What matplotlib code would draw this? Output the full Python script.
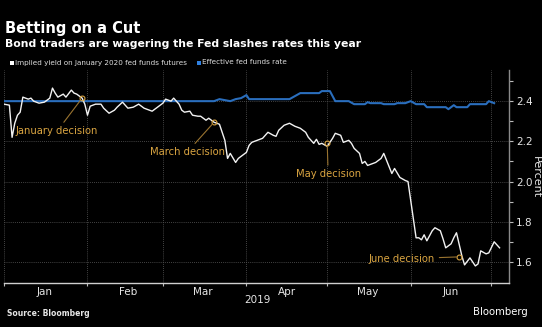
import matplotlib
matplotlib.use("Agg")
import matplotlib.pyplot as plt
from matplotlib.patches import Rectangle
import pandas as pd

# Implied yield on January 2020 fed funds futures
futures_dates = [
    "2019-01-01", "2019-01-03", "2019-01-04", "2019-01-05", "2019-01-06", "2019-01-07",
    "2019-01-08", "2019-01-10", "2019-01-11", "2019-01-12", "2019-01-14", "2019-01-16",
    "2019-01-18", "2019-01-19", "2019-01-20", "2019-01-21", "2019-01-23", "2019-01-24",
    "2019-01-26", "2019-01-27", "2019-01-28", "2019-01-30", "2019-01-31",
    "2019-02-01", "2019-02-02", "2019-02-04", "2019-02-06", "2019-02-07", "2019-02-09",
    "2019-02-11", "2019-02-12", "2019-02-14", "2019-02-16", "2019-02-18", "2019-02-20",
    "2019-02-22", "2019-02-23", "2019-02-25", "2019-02-27",
    "2019-03-01", "2019-03-02", "2019-03-04", "2019-03-05", "2019-03-07", "2019-03-08",
    "2019-03-09", "2019-03-11", "2019-03-12", "2019-03-14", "2019-03-15", "2019-03-17",
    "2019-03-18", "2019-03-20", "2019-03-21", "2019-03-22", "2019-03-24", "2019-03-25",
    "2019-03-26", "2019-03-28", "2019-03-29",
    "2019-04-01", "2019-04-02", "2019-04-03", "2019-04-05", "2019-04-07", "2019-04-09",
    "2019-04-11", "2019-04-12", "2019-04-13", "2019-04-15", "2019-04-17", "2019-04-19",
    "2019-04-21", "2019-04-23", "2019-04-24", "2019-04-26", "2019-04-27", "2019-04-28",
    "2019-04-29",
    "2019-05-01", "2019-05-03", "2019-05-04", "2019-05-06", "2019-05-07", "2019-05-09",
    "2019-05-10", "2019-05-11", "2019-05-13", "2019-05-14", "2019-05-15", "2019-05-16",
    "2019-05-18", "2019-05-19", "2019-05-21", "2019-05-22", "2019-05-25", "2019-05-26",
    "2019-05-28", "2019-05-30", "2019-05-31",
    "2019-06-03", "2019-06-04", "2019-06-05", "2019-06-06", "2019-06-07", "2019-06-09",
    "2019-06-10", "2019-06-12", "2019-06-13", "2019-06-14", "2019-06-16", "2019-06-17",
    "2019-06-18", "2019-06-20", "2019-06-21", "2019-06-23", "2019-06-25", "2019-06-26",
    "2019-06-27", "2019-06-29", "2019-06-30", "2019-07-02", "2019-07-04",
]
futures_yield = [
    2.385, 2.38, 2.22, 2.29, 2.33, 2.345,
    2.42, 2.41, 2.415, 2.40, 2.39, 2.395,
    2.415, 2.465, 2.44, 2.42, 2.435, 2.42,
    2.455, 2.44, 2.435, 2.415, 2.385,
    2.33, 2.375, 2.385, 2.385, 2.365, 2.34,
    2.355, 2.37, 2.395, 2.365, 2.37, 2.385,
    2.365, 2.36, 2.35, 2.37,
    2.39, 2.41, 2.40, 2.415, 2.385, 2.355,
    2.345, 2.35, 2.33, 2.325, 2.325, 2.305,
    2.315, 2.295, 2.29, 2.285, 2.205, 2.115,
    2.14, 2.095, 2.115,
    2.145, 2.18, 2.195, 2.205, 2.215, 2.245,
    2.23, 2.225, 2.255, 2.28, 2.29, 2.275,
    2.265, 2.245, 2.22, 2.19, 2.21, 2.185,
    2.19,
    2.175, 2.215, 2.24, 2.23, 2.195, 2.205,
    2.19, 2.165, 2.14, 2.09, 2.10, 2.08,
    2.09, 2.095, 2.115, 2.14, 2.04, 2.065,
    2.02, 2.005, 2.00,
    1.72, 1.72, 1.71, 1.735, 1.705, 1.755,
    1.77, 1.755, 1.715, 1.67, 1.69, 1.72,
    1.745, 1.63, 1.585, 1.62, 1.58, 1.59,
    1.655, 1.64, 1.645, 1.70, 1.67,
]

# Effective fed funds rate
effr_dates = [
    "2019-01-01", "2019-03-20", "2019-03-22", "2019-03-24", "2019-03-26", "2019-03-28",
    "2019-03-30", "2019-04-01", "2019-04-02", "2019-04-17", "2019-04-21", "2019-04-28",
    "2019-04-29", "2019-05-02", "2019-05-04", "2019-05-09", "2019-05-11", "2019-05-15",
    "2019-05-16", "2019-05-17", "2019-05-21", "2019-05-22", "2019-05-26", "2019-05-27",
    "2019-05-30", "2019-06-01", "2019-06-03", "2019-06-06", "2019-06-07", "2019-06-14",
    "2019-06-15", "2019-06-17", "2019-06-18", "2019-06-22", "2019-06-23", "2019-06-29",
    "2019-06-30", "2019-07-02",
]
effr_rate = [
    2.40, 2.40, 2.41, 2.405, 2.40, 2.41,
    2.415, 2.43, 2.41, 2.41, 2.44, 2.44,
    2.45, 2.45, 2.40, 2.40, 2.385, 2.385,
    2.395, 2.39, 2.39, 2.385, 2.385, 2.39,
    2.39, 2.40, 2.385, 2.385, 2.37, 2.37,
    2.36, 2.38, 2.37, 2.37, 2.385, 2.385,
    2.40, 2.39,
]

# FOMC decision markers: (label, date, implied yield)
decision_labels = ["January decision", "March decision", "May decision", "June decision"]
decision_dates = ["2019-01-30", "2019-03-20", "2019-05-01", "2019-06-19"]
decision_values = [2.415, 2.295, 2.19, 1.625]

month_labels = ["Jan", "Feb", "Mar", "Apr", "May", "Jun"]
y_ticks = [1.6, 1.8, 2.0, 2.2, 2.4]

BG = "black"
WHITE = "#f2f2f2"
BLUE = "#2a6ebd"
GOLD = "#d9a441"
GOLD_LINE = "#9a7430"
GRID = "#5a5a5a"
NARROW = ["Liberation Sans Narrow", "DejaVu Sans"]

fig = plt.figure(figsize=(5.42, 3.27), dpi=100, facecolor=BG)
W, H = 542, 327
ax = fig.add_axes([4 / W, 1 - 283 / H, 505 / W, 213 / H], facecolor=BG)

fd = pd.to_datetime(futures_dates)
ed = pd.to_datetime(effr_dates)
ax.plot(ed, effr_rate, color=BLUE, lw=1.5, zorder=3, solid_joinstyle="round")
ax.plot(fd, futures_yield, color=WHITE, lw=1.0, zorder=4, solid_joinstyle="round")

ax.set_xlim(pd.Timestamp("2019-01-01"), pd.Timestamp("2019-07-07 12:00"))
ax.set_ylim(1.495, 2.555)

# month boundaries as gridlines, month names centred between them
month_starts = pd.date_range("2019-01-01", "2019-07-01", freq="MS")
ax.set_xticks(month_starts)
ax.set_xticklabels([""] * len(month_starts))
mid_months = pd.to_datetime([f"2019-{m:02d}-16" for m in range(1, 7)])
ax.set_xticks(mid_months, minor=True)
ax.set_xticklabels(month_labels, minor=True, fontsize=7.5, color="#e6e6e6", family=NARROW)
ax.tick_params(axis="x", which="minor", length=0, pad=3)
ax.tick_params(axis="x", which="major", length=2.5, color="#bbbbbb", width=0.8)
ax.grid(axis="x", which="major", color=GRID, ls=(0, (1, 1.5)), lw=0.6)

ax.yaxis.tick_right()
ax.set_yticks(y_ticks)
ax.set_yticklabels([f"{v:.1f}" for v in y_ticks], fontsize=7.5, color="#e6e6e6", family=NARROW)
ax.set_yticks([1.7, 1.9, 2.1, 2.3, 2.5], minor=True)
ax.tick_params(axis="y", which="both", length=3, color="#bbbbbb", width=0.8, pad=2)
ax.grid(axis="y", which="major", color=GRID, ls=(0, (1, 1.5)), lw=0.6)

for s in ["top", "left"]:
    ax.spines[s].set_visible(False)
ax.spines["bottom"].set_color("#cfcfcf")
ax.spines["bottom"].set_linewidth(1.0)
ax.spines["right"].set_color("#8a8a8a")
ax.spines["right"].set_linewidth(1.0)

# axis title placed in figure space to the right of the tick labels
fig.text(536 / W, 1 - 177 / H, "Percent", rotation=270, color="#e6e6e6", fontsize=8,
         family=NARROW, ha="center", va="center")

# decision annotations
dd = pd.to_datetime(decision_dates)
text_offsets = [(-25, -33), (-27, -30), (1, -31), (-24, -2)]
has = ["center", "center", "center", "right"]
for lab, d, v, off, ha in zip(decision_labels, dd, decision_values, text_offsets, has):
    ax.plot(d, v, "o", ms=3.5, mfc="none", mec=GOLD, mew=0.8, zorder=5)
    ax.annotate(lab, xy=(d, v), xytext=off, textcoords="offset pixels",
                color=GOLD, fontsize=7.2, family=NARROW, ha=ha, va="center", zorder=6,
                arrowprops=dict(arrowstyle="-", color=GOLD_LINE, lw=0.8, shrinkA=1, shrinkB=2))

# titles
fig.text(5 / W, 1 - 28 / H, "Betting on a Cut", color="white", fontsize=10.5,
         fontweight="bold", va="center", ha="left")
fig.text(5 / W, 1 - 44 / H, "Bond traders are wagering the Fed slashes rates this year",
         color="white", fontsize=7.8, fontweight="bold", va="center", ha="left")

# legend
fig.patches.append(Rectangle((10 / W, 1 - 65 / H), 4 / W, 4 / H, transform=fig.transFigure,
                             facecolor="white", edgecolor="none"))
fig.text(15 / W, 1 - 62.5 / H, "Implied yield on January 2020 fed funds futures",
         color="#dddddd", fontsize=5.2, family=NARROW, va="center", ha="left")
fig.patches.append(Rectangle((197 / W, 1 - 65 / H), 4 / W, 4 / H, transform=fig.transFigure,
                             facecolor="#2f80e0", edgecolor="none"))
fig.text(202 / W, 1 - 62.5 / H, "Effective fed funds rate",
         color="#dddddd", fontsize=5.2, family=NARROW, va="center", ha="left")

# footer
fig.text(257 / W, 1 - 300 / H, "2019", color="#e6e6e6", fontsize=7.5, family=NARROW,
         ha="center", va="center")
fig.text(7 / W, 1 - 313 / H, "Source: Bloomberg", color="#e6e6e6", fontsize=5.5,
         fontweight="bold", ha="left", va="center")
fig.text(528 / W, 1 - 312 / H, "Bloomberg", color="white", fontsize=7.3,
         ha="right", va="center")

fig.savefig("out.png", dpi=100, facecolor=BG)
